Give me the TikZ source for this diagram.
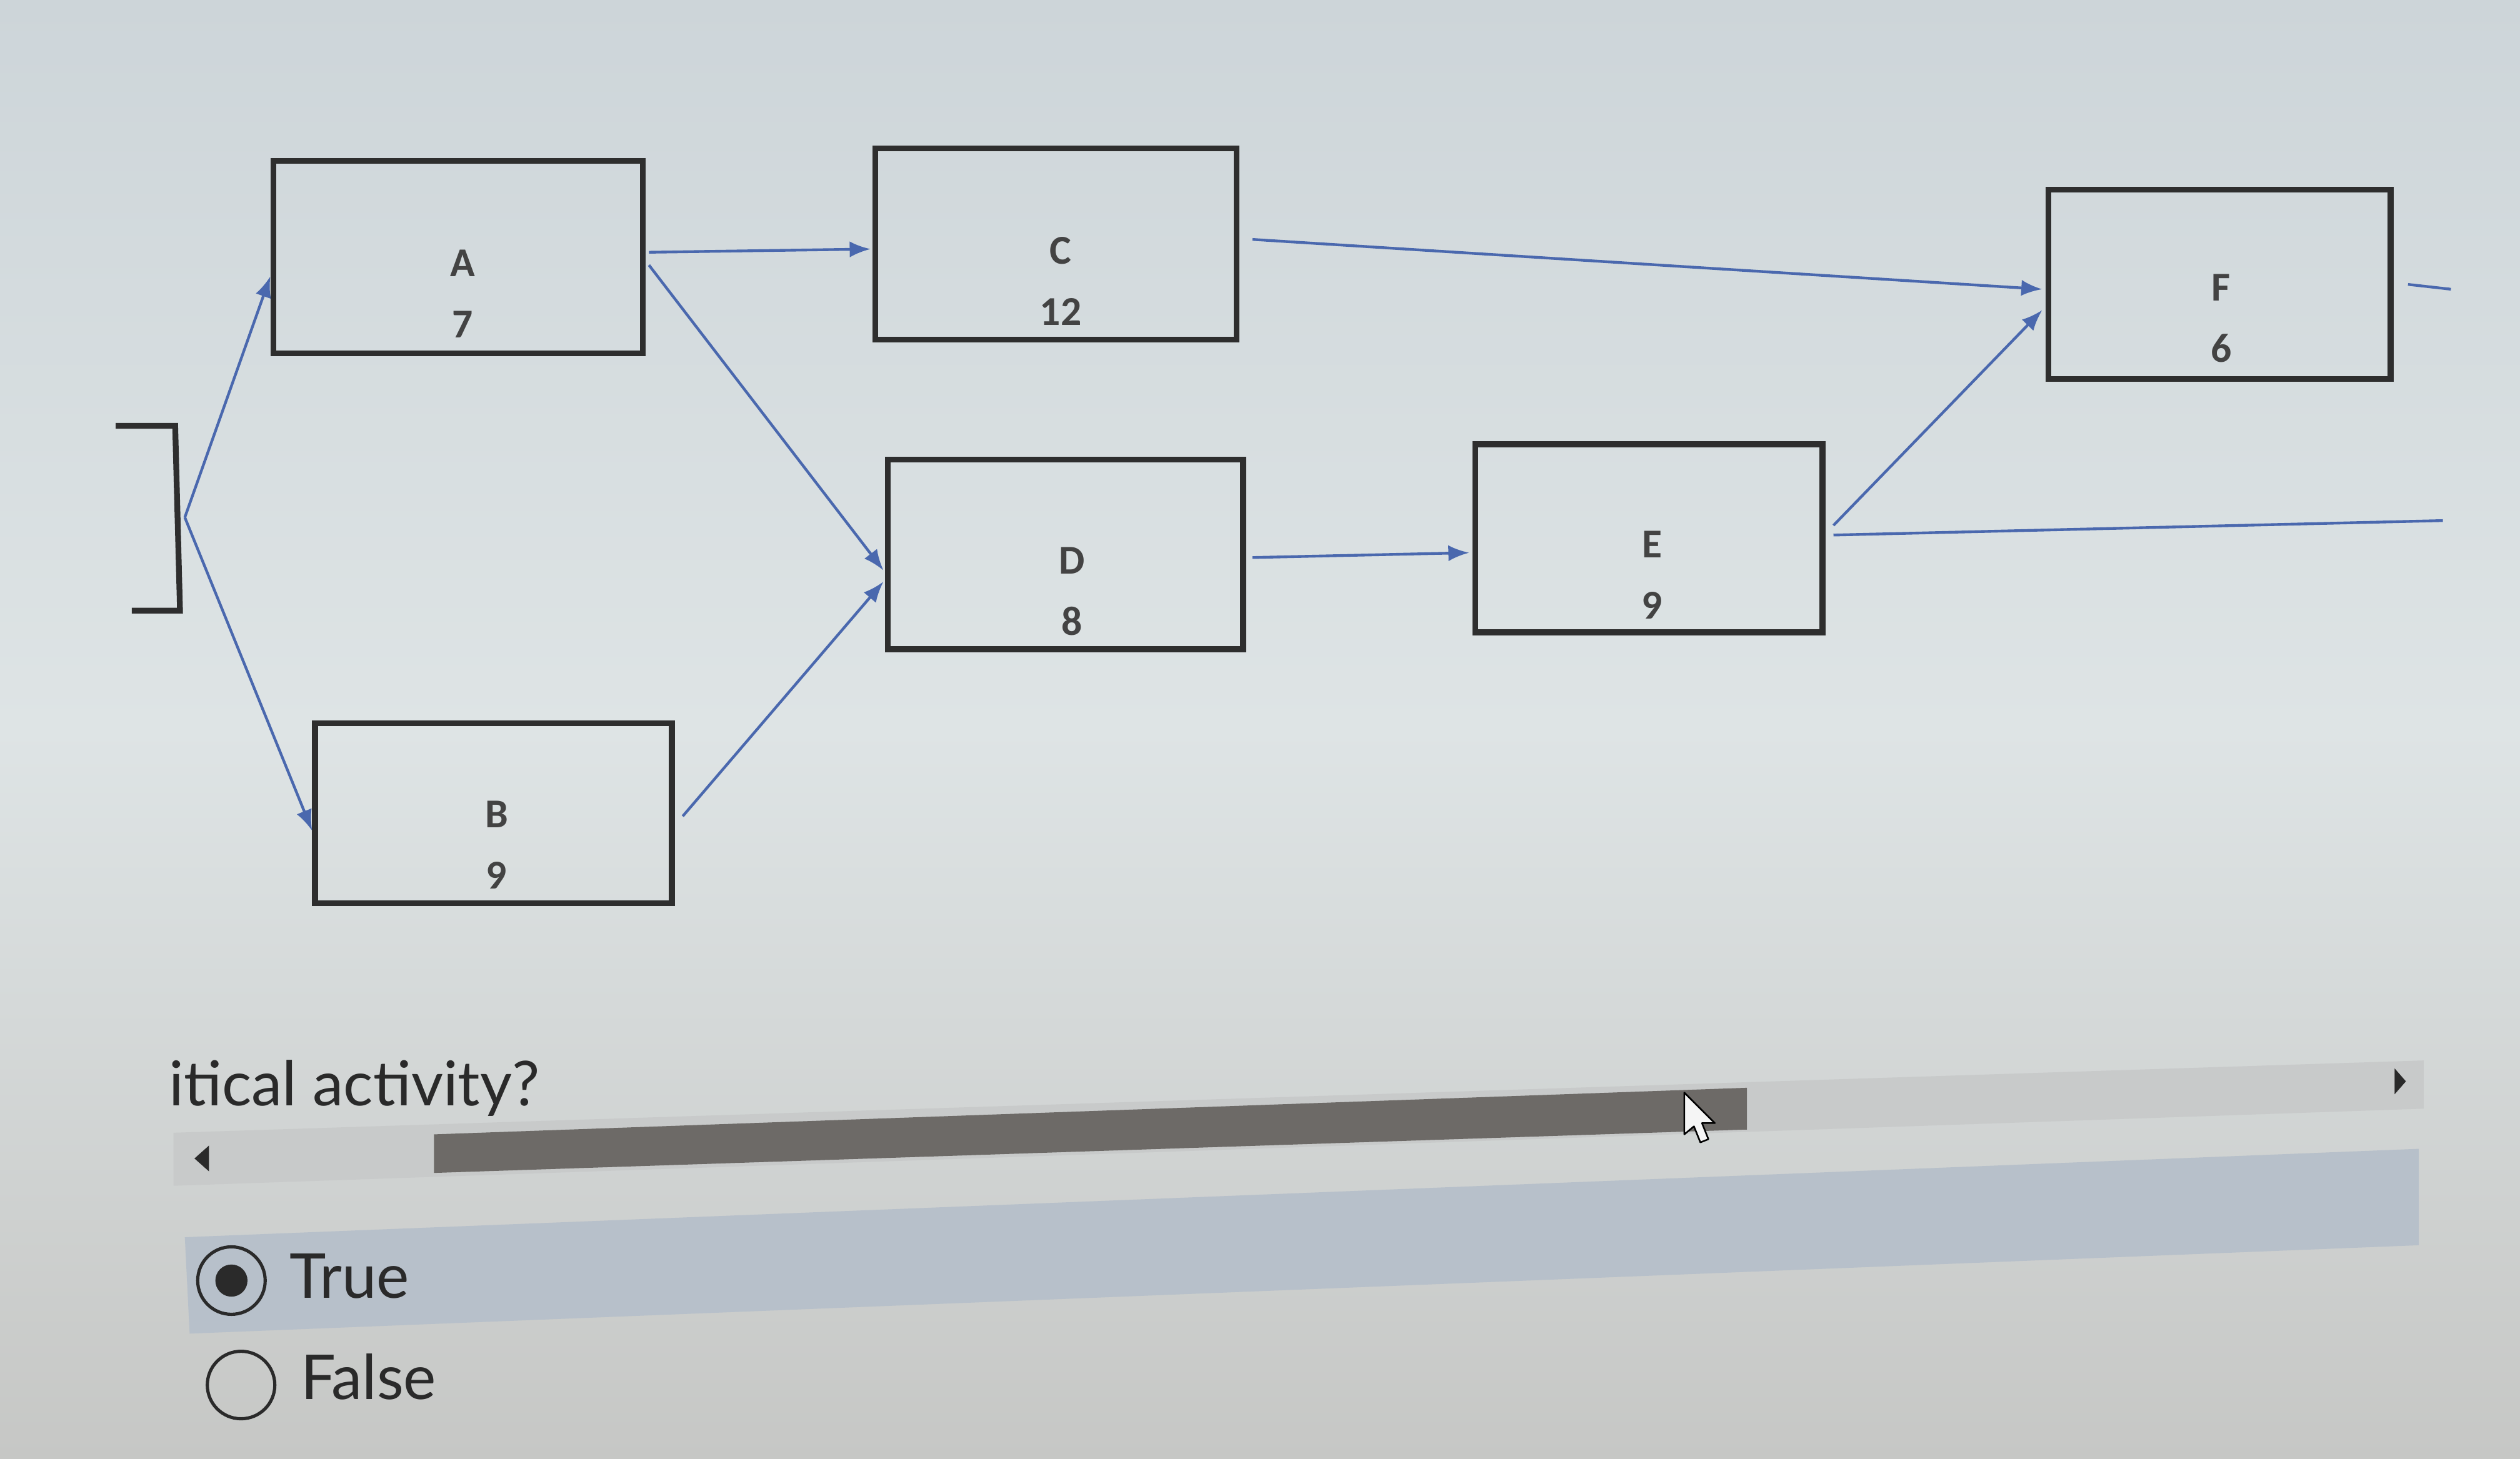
\documentclass[tikz,border=0pt]{standalone}
\usepackage{fontspec}
\setmainfont{Lato}
\newfontfamily\boxfont{Carlito}
\usetikzlibrary{arrows.meta,calc}
\definecolor{bgtop}{HTML}{CDD5D9}
\definecolor{bgmid}{HTML}{DEE4E5}
\definecolor{bgbot}{HTML}{C6C7C5}
\definecolor{boxline}{HTML}{2E2E2E}
\definecolor{conn}{HTML}{4A68AE}
\definecolor{band}{HTML}{B7C0CA}
\definecolor{track}{HTML}{C8CACA}
\definecolor{thumb}{HTML}{6D6A67}
\definecolor{uitext}{HTML}{2A2A2A}
\tikzset{
  actbox/.style={draw=boxline, line width=3.6pt, minimum width=#1, inner sep=0pt},
  actbox/.default=220pt,
  lbl/.style={font=\boxfont\bfseries\fontsize{25.5}{38}\selectfont, text=boxline!90!white, align=center, inner sep=0pt},
  link/.style={draw=conn, line width=1.7pt, -{Latex[length=13pt,width=10pt]}},
  plain/.style={draw=conn, line width=1.7pt},
  uilbl/.style={font=\fontsize{38.5}{44}\selectfont, text=uitext, inner sep=0pt, anchor=base west}
}
\begin{document}
\begin{tikzpicture}[x=1pt,y=-1pt]
\useasboundingbox (0,0) rectangle (1568,908);
\shade[top color=bgtop, bottom color=bgbot, middle color=bgmid] (0,0) rectangle (1568,908);

% bracket (start)
\draw[boxline, line width=3.6pt] (72,265) -- (109,265) -- (112,380) -- (82,380);
\coordinate (S) at (115,322);

% activity boxes
\node[actbox=230pt, minimum height=120pt] (A) at (285,160) {};
\node[lbl] (Atxt) at (288,183) {A\\7};
\node[actbox=222pt, minimum height=112pt] (B) at (307,506) {};
\node[lbl] (Btxt) at (309,526) {B\\9};
\node[actbox=225pt, minimum height=119pt] (C) at (657,152) {};
\node[lbl] (Ctxt) at (660,175) {C\\12};
\node[actbox=221pt, minimum height=118pt] (D) at (663,345) {};
\node[lbl] (Dtxt) at (667,368) {D\\8};
\node[actbox=216pt, minimum height=117pt] (E) at (1026,335) {};
\node[lbl] (Etxt) at (1028,358) {E\\9};
\node[actbox=213pt, minimum height=118pt] (F) at (1381,177) {};
\node[lbl] (Ftxt) at (1382,198) {F\\6};

\coordinate (Eout) at (1520,324);
\coordinate (Fout) at (1525,180);

% connectors
\draw[link] (S) -- ($(A.west)+(0,12)$);
\draw[link] (S) -- ($(B.west)+(0,11)$);
\draw[link] ($(A.east)+(2,-3)$) -- ($(C.west)+(-1,3)$);
\draw[link] ($(A.east)+(2,5)$) -- ($(D.west)+(-1,10)$);
\draw[link] ($(B.east)+(5,2)$) -- ($(D.west)+(-1,17)$);
\draw[link] ($(C.east)+(8,-3)$) -- ($(F.west)+(-2,3)$);
\draw[link] ($(D.east)+(4,2)$) -- ($(E.west)+(-2,9)$);
\draw[link] ($(E.east)+(5,-8)$) -- ($(F.west)+(-2,16)$);
\draw[plain] ($(E.east)+(5,-2)$) -- (Eout);
\draw[plain] ($(F.east)+(9,0)$) -- (Fout);

% question text
\node[uilbl] (q) at (105,688) {itical activity?};

% scrollbar
\fill[track] (108,705) -- (1508,660) -- (1508,690) -- (108,738) -- cycle;
\fill[thumb] (270,706) -- (1087,677) -- (1087,703) -- (270,730) -- cycle;
\fill[uitext] (121,721) -- (130,713) -- (130,729) -- cycle;
\fill[uitext] (1497,673) -- (1490,665) -- (1490,681) -- cycle;
% mouse pointer
\draw[black, line width=1pt, fill=white!92!gray, line join=round]
  (1048,680) -- (1048,706) -- (1054,701) -- (1058,711) -- (1063,709) -- (1059,699) -- (1067,699) -- cycle;

% selected answer band
\fill[band] (115,770) -- (1505,715) -- (1505,775) -- (118,830) -- cycle;

% radio buttons
\draw[uitext, line width=2pt] (144,797) circle (21);
\fill[uitext] (144,797) circle (10);
\node[uilbl] (t) at (180,808) {True};
\draw[uitext, line width=2pt] (150,862) circle (21);
\node[uilbl] (f) at (187,871) {False};
\end{tikzpicture}
\end{document}
